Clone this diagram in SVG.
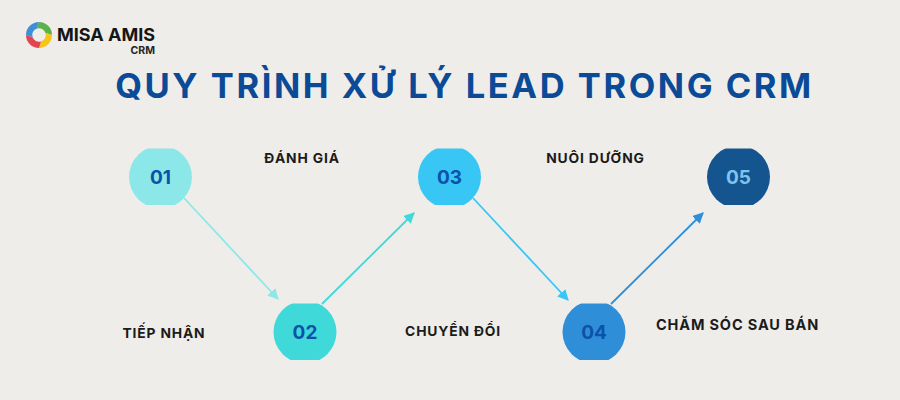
<svg xmlns="http://www.w3.org/2000/svg" width="900" height="400" viewBox="0 0 900 400">
<defs>
<clipPath id="cc"><rect x="-40" y="-28.500" width="80" height="56.500"/></clipPath>
<path id="blade" d="M0 -13A13 13 0 0 1 13 0Q9 -1.500 6.500 -2A6.800 6.800 0 0 0 -2 -6.500Q-1.500 -9 0 -13z"/>
<marker id="m1" viewBox="0 0 10 10" refX="9" refY="5" markerUnits="userSpaceOnUse" markerWidth="11" markerHeight="11" orient="auto"><path d="M0 0L10 5L0 10z" fill="#8ce8e8"/></marker>
<marker id="m2" viewBox="0 0 10 10" refX="9" refY="5" markerUnits="userSpaceOnUse" markerWidth="11" markerHeight="11" orient="auto"><path d="M0 0L10 5L0 10z" fill="#40d9d9"/></marker>
<marker id="m3" viewBox="0 0 10 10" refX="9" refY="5" markerUnits="userSpaceOnUse" markerWidth="11" markerHeight="11" orient="auto"><path d="M0 0L10 5L0 10z" fill="#38c6f4"/></marker>
<marker id="m4" viewBox="0 0 10 10" refX="9" refY="5" markerUnits="userSpaceOnUse" markerWidth="11" markerHeight="11" orient="auto"><path d="M0 0L10 5L0 10z" fill="#2e8fd8"/></marker>
</defs>
<style>
text{font-family:Inter,"Liberation Sans",sans-serif;font-weight:700}
.l{font-size:13.800px;fill:#1b1b1b;letter-spacing:.85px;text-anchor:middle}
.n{font-size:19px;fill:#0b52a8;text-anchor:middle}
.c{fill:none;stroke-width:1.800}
</style>
<rect width="900" height="400" fill="#eeede9"/>
<g id="logo">
<g transform="translate(39 35)">
<use href="#blade" fill="#5bb24a"/>
<use href="#blade" fill="#f5c518" transform="rotate(90)"/>
<use href="#blade" fill="#e2454f" transform="rotate(180)"/>
<use href="#blade" fill="#3f8ed6" transform="rotate(270)"/>
</g>
<text x="57" y="41" font-size="18" fill="#151515">MISA AMIS</text>
<text x="155" y="54" text-anchor="end" font-size="10.500" fill="#252525">CRM</text>
</g>
<text id="title" x="464.500" y="98" text-anchor="middle" font-size="34.500" fill="#0b4a96" letter-spacing="2.550">QUY TRÌNH XỬ LÝ LEAD TRONG CRM</text>
<g id="connectors">
<line class="c" x1="184" y1="198" x2="278" y2="299" stroke="#8ce8e8" marker-end="url(#m1)"/>
<line class="c" x1="322" y1="304" x2="414" y2="213" stroke="#40d9d9" marker-end="url(#m2)"/>
<line class="c" x1="473" y1="198" x2="568" y2="300" stroke="#38c6f4" marker-end="url(#m3)"/>
<line class="c" x1="611" y1="304" x2="703" y2="213" stroke="#2e8fd8" marker-end="url(#m4)"/>
</g>
<g id="node-01"><g transform="translate(160.500 177)"><circle r="31.500" fill="#8ce8e8" clip-path="url(#cc)"/><text class="n" y="7">01</text></g></g>
<g id="node-02"><g transform="translate(305 332)"><circle r="31.500" fill="#40d9d9" clip-path="url(#cc)"/><text class="n" y="7">02</text></g></g>
<g id="node-03"><g transform="translate(449.500 177)"><circle r="31.500" fill="#38c6f4" clip-path="url(#cc)"/><text class="n" y="7">03</text></g></g>
<g id="node-04"><g transform="translate(594 332)"><circle r="31.500" fill="#2e8fd8" clip-path="url(#cc)"/><text class="n" y="7">04</text></g></g>
<g id="node-05"><g transform="translate(738.500 177)"><circle r="31.500" fill="#14548f" clip-path="url(#cc)"/><text class="n" y="7" style="fill:#7fc4ee">05</text></g></g>
<g id="labels">
<text class="l" x="302" y="163">ĐÁNH GIÁ</text>
<text class="l" x="164" y="338">TIẾP NHẬN</text>
<text class="l" x="453" y="336">CHUYỂN ĐỔI</text>
<text class="l" x="595.500" y="163">NUÔI DƯỠNG</text>
<text class="l" x="737.500" y="330" style="font-size:14.500px">CHĂM SÓC SAU BÁN</text>
</g>
</svg>
